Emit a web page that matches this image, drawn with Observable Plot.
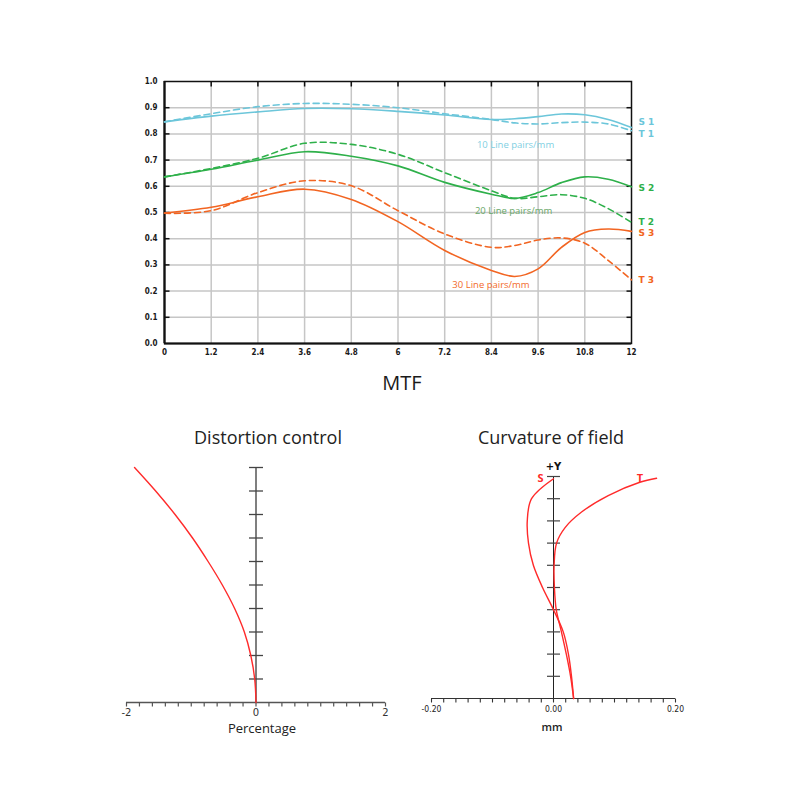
<!DOCTYPE html>
<html><head><meta charset="utf-8">
<script src="https://cdn.jsdelivr.net/npm/d3@7"></script>
<script src="https://cdn.jsdelivr.net/npm/@observablehq/plot@0.6"></script>
<style>
body{margin:0;background:#fff;}
#root{position:relative;width:800px;height:800px;background:#fff;font-family:"Open Sans",sans-serif;overflow:hidden;}
#root svg{position:absolute;overflow:visible;}
.t{position:absolute;color:#222;white-space:nowrap;transform:translate(-50%,-50%);line-height:1;}
</style></head><body><div id="root"></div><script>
// ---------- MTF data ----------
const mtfX = [0, 1.2, 2.4, 3.6, 4.8, 6, 7.2, 8.4, 9, 9.6, 10.2, 10.8, 11.4, 12];
const S1 = [0.846, 0.868, 0.884, 0.897, 0.896, 0.886, 0.872, 0.855, 0.858, 0.866, 0.876, 0.873, 0.855, 0.824];
const T1 = [0.846, 0.877, 0.904, 0.916, 0.913, 0.900, 0.877, 0.855, 0.842, 0.838, 0.843, 0.845, 0.838, 0.812];
const S2 = [0.636, 0.665, 0.700, 0.732, 0.715, 0.678, 0.615, 0.570, 0.554, 0.576, 0.614, 0.636, 0.627, 0.598];
const T2 = [0.636, 0.668, 0.707, 0.764, 0.760, 0.722, 0.652, 0.583, 0.554, 0.560, 0.568, 0.554, 0.515, 0.462];
const S3 = [0.498, 0.520, 0.560, 0.589, 0.550, 0.465, 0.355, 0.279, 0.256, 0.285, 0.367, 0.424, 0.437, 0.428];
const T3 = [0.497, 0.507, 0.576, 0.621, 0.602, 0.507, 0.418, 0.367, 0.374, 0.395, 0.403, 0.383, 0.317, 0.243];
const mtfXTicks = [0, 1.2, 2.4, 3.6, 4.8, 6, 7.2, 8.4, 9.6, 10.8, 12];
const mtfXLabels = ["0", "1.2", "2.4", "3.6", "4.8", "6", "7.2", "8.4", "9.6", "10.8", "12"];
const mtfYTicks = [0, 0.1, 0.2, 0.3, 0.4, 0.5, 0.6, 0.7, 0.8, 0.9, 1.0];
const mtfYLabels = ["0.0", "0.1", "0.2", "0.3", "0.4", "0.5", "0.6", "0.7", "0.8", "0.9", "1.0"];
const seriesNames = ["S 1", "T 1", "S 2", "T 2", "S 3", "T 3"];
const seriesLabelY = [0.845, 0.800, 0.593, 0.463, 0.421, 0.243];
const pairLabels = ["10 Line pairs/mm", "20 Line pairs/mm", "30 Line pairs/mm"];
const pairLabelX = [9.02, 8.97, 8.39];
const pairLabelY = [0.756, 0.504, 0.224];

// ---------- Distortion data ----------
const distField = [0, 0.1, 0.2, 0.3, 0.4, 0.5, 0.6, 0.7, 0.8, 0.9, 1.0];
const distPct = [0, -0.02, -0.08, -0.18, -0.33, -0.52, -0.74, -0.98, -1.25, -1.55, -1.876];
const distXLabelValues = [-2, 0, 2];
const distXLabels = ["-2", "0", "2"];

// ---------- Curvature data ----------
const curvSField = [0, 0.1, 0.2, 0.3, 0.4, 0.5, 0.6, 0.7, 0.8, 0.9, 0.99];
const curvS = [0.033, 0.0295, 0.0245, 0.016, 0.0, -0.018, -0.033, -0.041, -0.043, -0.036, 0.0];
const curvTField = [0, 0.1, 0.2, 0.3, 0.4, 0.5, 0.6, 0.7, 0.77, 0.84, 0.914, 0.974, 0.992];
const curvT = [0.033, 0.028, 0.021, 0.013, 0.0045, 0.0015, 0.001, 0.005, 0.019, 0.046, 0.0897, 0.1415, 0.169];
const curvXLabelValues = [-0.2, 0, 0.2];
const curvXLabels = ["-0.20", "0.00", "0.20"];
const curvNames = ["S", "T"];
const curvNameX = [-0.0213, 0.1415];
const curvNameY = [0.99, 0.99];

// ---------- styles ----------
const cyan = "#6cc6da", green = "#2eb04a", orange = "#f26522", red = "#ff2a2a";
const seriesColors = [cyan, cyan, green, green, orange, orange];
const pairColors = ["#7fcfe2", "#69a869", "#f26a2a"];
const grid = "#c6c6c6";

const root = document.getElementById("root");
const place = (el, left, top) => { el.style.left = left + "px"; el.style.top = top + "px"; root.appendChild(el); };
const label = (txt, cx, cy, css) => { const d = document.createElement("div"); d.className = "t"; d.textContent = txt; d.style.left = cx + "px"; d.style.top = cy + "px"; Object.assign(d.style, css); root.appendChild(d); };
const seg = (x1, y1, x2, y2) => ({draw(ctx) { ctx.moveTo(x1, y1); ctx.lineTo(x2, y2); }});
const table = (xs, ys) => xs.map((x, i) => ({x, y: ys[i]}));

// ---------- MTF ----------
const condensed = "DejaVu Sans Condensed, DejaVu Sans, sans-serif";
const inner = mtfYTicks.slice(1, -1);
const innerX = mtfXTicks.slice(1, -1);
const mtf = Plot.plot({
  width: 800, height: 370,
  marginLeft: 164, marginRight: 169, marginTop: 81, marginBottom: 27,
  x: {domain: [0, 12]},
  y: {domain: [0, 1]},
  style: {background: "transparent", color: "#1a1a1a"},
  marks: [
    Plot.ruleX(innerX, {x: d => d, stroke: grid, strokeWidth: 1.5}),
    Plot.ruleY(inner, {y: d => d, stroke: grid, strokeWidth: 1.5}),
    Plot.frame({stroke: "#111", strokeWidth: 1.5}),
    Plot.ruleX([0], {x: d => d, stroke: "#111", strokeWidth: 2.2}),
    Plot.ruleY([0], {y: d => d, stroke: "#111", strokeWidth: 2.2}),
    Plot.dot(inner, {x: d => 0, y: d => d, symbol: seg(0, 0, 5, 0), fill: "none", stroke: "#111", strokeWidth: 1.5}),
    Plot.dot(inner, {x: d => 12, y: d => d, symbol: seg(0, 0, -5, 0), fill: "none", stroke: "#111", strokeWidth: 1.5}),
    Plot.dot(innerX, {x: d => d, y: d => 1, symbol: seg(0, 0, 0, 5), fill: "none", stroke: "#111", strokeWidth: 1.5}),
    Plot.line(table(mtfX, S1), {x: "x", y: "y", stroke: cyan, strokeWidth: 1.6, curve: "catmull-rom"}),
    Plot.line(table(mtfX, T1), {x: "x", y: "y", stroke: cyan, strokeWidth: 1.6, strokeDasharray: "6,4", curve: "catmull-rom"}),
    Plot.line(table(mtfX, S2), {x: "x", y: "y", stroke: green, strokeWidth: 1.6, curve: "catmull-rom"}),
    Plot.line(table(mtfX, T2), {x: "x", y: "y", stroke: green, strokeWidth: 1.6, strokeDasharray: "6,4", curve: "catmull-rom"}),
    Plot.line(table(mtfX, S3), {x: "x", y: "y", stroke: orange, strokeWidth: 1.6, curve: "catmull-rom"}),
    Plot.line(table(mtfX, T3), {x: "x", y: "y", stroke: orange, strokeWidth: 1.6, strokeDasharray: "6,4", curve: "catmull-rom"}),
    Plot.text(seriesNames, {x: d => 12, y: (d, i) => seriesLabelY[i], text: d => d, fill: (d, i) => seriesColors[i], dx: 7, textAnchor: "start", fontSize: 9, fontWeight: "bold", fontFamily: "DejaVu Sans, sans-serif"}),
    Plot.text(pairLabels, {x: (d, i) => pairLabelX[i], y: (d, i) => pairLabelY[i], text: d => d, fill: (d, i) => pairColors[i], fontSize: 9.5, fontFamily: "Open Sans, sans-serif"}),
    Plot.axisY({ticks: mtfYTicks, tickFormat: d => mtfYLabels[mtfYTicks.indexOf(d)], tickSize: 0, tickPadding: 7, fontSize: 8, fontWeight: "bold", fontFamily: condensed, label: null}),
    Plot.axisX({ticks: mtfXTicks, tickFormat: d => mtfXLabels[mtfXTicks.indexOf(d)], tickSize: 0, tickPadding: 6, fontSize: 8, fontWeight: "bold", fontFamily: condensed, label: null})
  ]
});
place(mtf, 0, 0);
label("MTF", 402, 383, {fontSize: "20px", color: "#1a1a1a"});

// ---------- Distortion ----------
const distYTicks = [0.1, 0.2, 0.3, 0.4, 0.5, 0.6, 0.7, 0.8, 0.9, 1.0];
const distXTicks = d3.range(-10, 11).map(i => i / 5);
const dist = Plot.plot({
  width: 400, height: 300,
  marginLeft: 126, marginRight: 15, marginTop: 17, marginBottom: 48,
  x: {domain: [-2, 2]},
  y: {domain: [0, 1]},
  style: {background: "transparent", color: "#333"},
  marks: [
    Plot.ruleY([0], {y: d => d, stroke: "#555", strokeWidth: 1.3}),
    Plot.dot(distXTicks, {x: d => d, y: d => 0, symbol: seg(0, 0, 0, 4), fill: "none", stroke: "#555", strokeWidth: 1.2}),
    Plot.ruleX([0], {x: d => d, stroke: "#555", strokeWidth: 1.5}),
    Plot.dot(distYTicks, {x: d => 0, y: d => d, symbol: seg(-7, 0, 7, 0), fill: "none", stroke: "#444", strokeWidth: 1.3}),
    Plot.line(table(distPct, distField), {x: "x", y: "y", stroke: red, strokeWidth: 1.4, curve: "catmull-rom"}),
    Plot.axisX({ticks: distXLabelValues, tickFormat: d => distXLabels[distXLabelValues.indexOf(d)], tickSize: 0, tickPadding: 6, fontSize: 10, fontFamily: "DejaVu Sans, sans-serif", label: null}),
    Plot.axisY({ticks: [], label: null})
  ]
});
place(dist, 0, 450);
label("Distortion control", 268, 437, {fontSize: "18px", color: "#222"});
label("Percentage", 262, 728, {fontSize: "13px", color: "#222"});

// ---------- Curvature ----------
const curvYTicks = [0.1, 0.2, 0.3, 0.4, 0.5, 0.6, 0.7, 0.8, 0.9, 1.0];
const curvXTicks = d3.range(-10, 11).map(i => i / 50);
const curv = Plot.plot({
  width: 400, height: 300,
  marginLeft: 31, marginRight: 125, marginTop: 26, marginBottom: 52,
  x: {domain: [-0.2, 0.2]},
  y: {domain: [0, 1]},
  style: {background: "transparent", color: "#222"},
  marks: [
    Plot.ruleY([0], {y: d => d, stroke: "#333", strokeWidth: 1.2}),
    Plot.dot(curvXTicks, {x: d => d, y: d => 0, symbol: seg(0, 0, 0, 4), fill: "none", stroke: "#333", strokeWidth: 1.1}),
    Plot.ruleX([0], {x: d => d, stroke: "#222", strokeWidth: 1}),
    Plot.dot(curvYTicks, {x: d => 0, y: d => d, symbol: seg(-6.5, 0, 6.5, 0), fill: "none", stroke: "#444", strokeWidth: 1.2}),
    Plot.line(table(curvS, curvSField), {x: "x", y: "y", stroke: red, strokeWidth: 1.4, curve: "catmull-rom"}),
    Plot.line(table(curvT, curvTField), {x: "x", y: "y", stroke: red, strokeWidth: 1.4, curve: "catmull-rom"}),
    Plot.text(["+Y"], {x: d => 0, y: d => 1, text: d => d, dy: -9.5, fontSize: 10, fontWeight: "bold", fill: "#111", fontFamily: "DejaVu Sans, sans-serif"}),
    Plot.text(curvNames, {x: (d, i) => curvNameX[i], y: (d, i) => curvNameY[i], text: d => d, fill: red, fontSize: 11, fontWeight: "bold", fontFamily: "Open Sans, sans-serif"}),
    Plot.axisX({ticks: curvXLabelValues, tickFormat: d => curvXLabels[curvXLabelValues.indexOf(d)], tickSize: 0, tickPadding: 7, fontSize: 8.5, fontFamily: condensed, label: null}),
    Plot.axisY({ticks: [], label: null})
  ]
});
place(curv, 400, 450);
label("Curvature of field", 551, 437, {fontSize: "18px", color: "#222"});
label("mm", 552, 726, {fontSize: "11px", color: "#222", fontWeight: "600"});
</script></body></html>
